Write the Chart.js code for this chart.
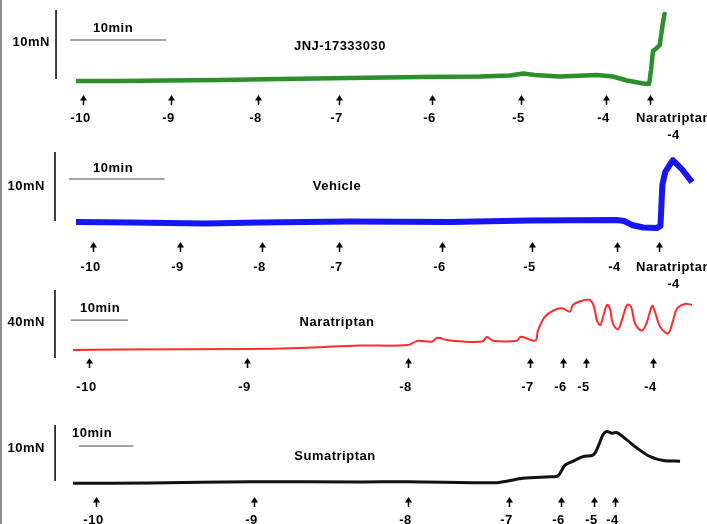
<!DOCTYPE html>
<html>
<head>
<meta charset="utf-8">
<script src="https://cdn.jsdelivr.net/npm/chart.js@4.4.0/dist/chart.umd.min.js"></script>
<style>
    html, body { margin: 0; padding: 0; background: #fff; }
    #wrap { position: relative; width: 707px; height: 524px; }
    #wrap:before { content: ''; position: absolute; left: 0; top: 0; width: 2px; height: 524px; background: #8c8c8c; }
    canvas { display: block; }
</style>
</head>
<body>
<div id="wrap"><canvas id="traces" width="707" height="524"></canvas></div>
<script>
// time in minutes from start of trace, tension in mN from baseline
const jnjTime = [0, 4.6, 9.4, 15, 21.3, 28.5, 35.8, 42.1, 45.2, 46.6, 47.8, 50.4, 54.3, 55.9, 57.4, 59.1, 59.7, 59.9, 60.1, 60.5, 60.8, 61.1, 61.3, 61.5];
const jnjTension = [0, 0, 0.07, 0.15, 0.3, 0.43, 0.58, 0.65, 0.8, 1.1, 0.87, 0.65, 0.87, 0.65, 0.07, -0.36, -0.43, 1.6, 4.35, 4.8, 5.2, 8.1, 9.7, 9.6];
const jnjDoses = [0.73, 9.9, 19.0, 27.4, 37.1, 46.4, 55.2, 59.8];
const jnjLabels = ['-10', '-9', '-8', '-7', '-6', '-5', '-4', 'Naratriptan\n-4'];

const vehTime = [0, 5.65, 13.5, 19.3, 28.7, 39.2, 47.5, 56.6, 57.4, 58.2, 59.4, 60.8, 61.2, 61.4, 61.7, 62.5, 63.5, 64.5];
const vehTension = [-0.07, -0.14, -0.29, -0.14, 0, -0.07, 0.14, 0.22, 0.07, -0.5, -0.87, -0.94, -0.65, 5.3, 7.2, 8.9, 7.5, 5.7];
const vehDoses = [1.78, 10.9, 19.5, 27.5, 38.3, 47.7, 56.6, 61.0];
const vehLabels = ['-10', '-9', '-8', '-7', '-6', '-5', '-4', 'Naratriptan\n-4'];

const narTime = [0, 8.2, 30.5, 39.8, 50.4, 58.8, 60.4, 63.0, 63.9, 65.6, 67.9, 71.8, 72.6, 73.7, 77.9, 78.6, 81.1,
    81.6, 82.8, 84.2, 85.8, 87.2, 87.7, 89.3, 90.7, 91.4, 91.9, 92.5, 93.0, 93.7, 94.2, 94.7, 95.6, 96.3, 97.2, 97.9,
    98.6, 99.8, 100.7, 101.6, 102.1, 103.0, 104.4, 105.3, 106.0, 107.4, 108.6];
const narTension = [0, 0.3, 0.6, 1.2, 2.6, 2.9, 5.3, 4.9, 7.2, 5.9, 5.1, 5.0, 7.6, 5.5, 5.5, 7.8, 5.5,
    11.8, 19.6, 23.1, 24.5, 22.5, 26.5, 29.0, 29.4, 25.5, 17.6, 14.7, 19.6, 26.5, 24.5, 15.7, 12.2, 17.6, 26.5, 25.5,
    15.7, 11.4, 16.6, 25.9, 22.5, 13.7, 9.8, 17.6, 24.5, 27.1, 26.5];
const narDoses = [2.8, 30.5, 58.8, 80.2, 86.0, 90.0, 101.8];
const narLabels = ['-10', '-9', '-8', '-7', '-6', '-5', '-4'];

const sumTime = [0, 14.2, 32.6, 52.9, 61.7, 78.1, 80.1, 82.9, 87.8, 89.3, 90.6, 91.9, 93.9, 95.8, 96.7, 97.6, 98.3, 99.3, 100.2, 102.0, 103.9, 106.3, 108.7, 111.8];
const sumTension = [-0.05, 0, 0.23, 0.18, 0.23, 0.05, 0.36, 0.84, 1.13, 1.25, 3.2, 3.8, 4.7, 5.0, 6.5, 8.6, 9.2, 8.9, 9.0, 7.7, 6.2, 4.7, 4.0, 3.9];
const sumDoses = [4.2, 33.3, 61.7, 80.3, 89.9, 95.9, 99.8];
const sumLabels = ['-10', '-9', '-8', '-7', '-6', '-5', '-4'];

const W = 707, H = 524;
const FONT = 'bold 13px "Liberation Sans", Arial, sans-serif';

// ox/oy: pixel of trace start, ppm/ppn: pixels per minute / per mN
const panels = [
    { name: 'JNJ-17333030', time: jnjTime, tension: jnjTension, doses: jnjDoses, labels: jnjLabels,
      color: '#2b8f2b', lw: 4.5, curve: 0, ox: 76, oy: 81, ppm: 9.6, ppn: 6.9,
      unit: '10mN', barN: 10, hBar: [-0.625, 5.94], vBar: [-2.08, 0.29],
      unitX: 50, unitY: 42, minX: 93, minY: 28, nameX: 340, nameY: 46, arrowTop: 95, labelY: 118 },
    { name: 'Vehicle', time: vehTime, tension: vehTension, doses: vehDoses, labels: vehLabels,
      color: '#1616f0', lw: 6, curve: 0, ox: 76, oy: 221.5, ppm: 9.55, ppn: 6.9,
      unit: '10mN', barN: 10, hBar: [-0.73, 6.16], vBar: [-2.2, 0.07],
      unitX: 45, unitY: 186, minX: 93, minY: 168, nameX: 337, nameY: 186, arrowTop: 242, labelY: 267 },
    { name: 'Naratriptan', time: narTime, tension: narTension, doses: narDoses, labels: narLabels,
      color: '#ff2a2a', lw: 2, curve: 0.35, ox: 73, oy: 350, ppm: 5.7, ppn: 1.7,
      unit: '40mN', barN: 40, hBar: [-0.35, 17.6], vBar: [-3.16, -4.7],
      unitX: 45, unitY: 322, minX: 80, minY: 308, nameX: 337, nameY: 322, arrowTop: 358, labelY: 387 },
    { name: 'Sumatriptan', time: sumTime, tension: sumTension, doses: sumDoses, labels: sumLabels,
      color: '#111111', lw: 3, curve: 0.3, ox: 73, oy: 483, ppm: 5.43, ppn: 5.6,
      unit: '10mN', barN: 10, hBar: [1.1, 6.6], vBar: [-3.3, 0.36],
      unitX: 45, unitY: 448, minX: 72, minY: 433, nameX: 335, nameY: 456, arrowTop: 497, labelY: 520 }
];
const noteX = 636; // left edge of the two-line "Naratriptan / -4" note

const datasets = [];
const scales = { x: { display: false }, y: { display: false } };
panels.forEach(function (p, i) {
    scales['x' + i] = { type: 'linear', display: false, min: -p.ox / p.ppm, max: (W - p.ox) / p.ppm };
    scales['y' + i] = { type: 'linear', display: false, min: (p.oy - H) / p.ppn, max: p.oy / p.ppn };
    const common = { xAxisID: 'x' + i, yAxisID: 'y' + i, pointRadius: 0, clip: false, tension: 0 };
    datasets.push(Object.assign({}, common, {
        data: p.time.map((t, k) => ({ x: t, y: p.tension[k] })),
        borderColor: p.color,
        borderWidth: p.lw,
        tension: p.curve,
        borderJoinStyle: 'round'
    }));
    // 10 min scale bar
    datasets.push(Object.assign({}, common, {
        data: [{ x: p.hBar[0], y: p.hBar[1] }, { x: p.hBar[0] + 10, y: p.hBar[1] }],
        borderColor: '#4a4a4a', borderWidth: 1
    }));
    // tension scale bar
    datasets.push(Object.assign({}, common, {
        data: [{ x: p.vBar[0], y: p.vBar[1] }, { x: p.vBar[0], y: p.vBar[1] + p.barN }],
        borderColor: '#000', borderWidth: 1.5
    }));
});

const annotate = {
    id: 'annotate',
    afterDatasetsDraw(chart) {
        const ctx = chart.ctx;
        ctx.save();
        ctx.fillStyle = '#000';
        ctx.font = FONT;
        ctx.letterSpacing = '0.5px';
        ctx.textBaseline = 'middle';
        panels.forEach(function (p, i) {
            const xs = chart.scales['x' + i];
            ctx.textAlign = 'right';
            ctx.fillText(p.unit, p.unitX, p.unitY);
            ctx.textAlign = 'left';
            ctx.fillText('10min', p.minX, p.minY);
            ctx.textAlign = 'center';
            ctx.fillText(p.name, p.nameX, p.nameY);
            p.doses.forEach(function (t, k) {
                const x = Math.round(xs.getPixelForValue(t)) + 0.5;
                const y = p.arrowTop;
                ctx.beginPath();
                ctx.moveTo(x, y);
                ctx.lineTo(x + 3.5, y + 5.5);
                ctx.lineTo(x - 3.5, y + 5.5);
                ctx.closePath();
                ctx.fill();
                ctx.fillRect(x - 0.75, y + 5, 1.5, 5);
                const lines = p.labels[k].split('\n');
                if (lines.length > 1) {
                    const w = ctx.measureText(lines[0]).width;
                    lines.forEach((s, j) => ctx.fillText(s, noteX + w / 2, p.labelY + j * 17));
                } else {
                    ctx.fillText(lines[0], x - 3, p.labelY);
                }
            });
        });
        ctx.restore();
    }
};

new Chart(document.getElementById('traces').getContext('2d'), {
    type: 'line',
    data: { datasets: datasets },
    options: {
        responsive: false,
        animation: false,
        layout: { padding: 0 },
        scales: scales,
        plugins: {
            legend: { display: false },
            tooltip: { enabled: false }
        }
    },
    plugins: [annotate]
});
</script>
</body>
</html>
